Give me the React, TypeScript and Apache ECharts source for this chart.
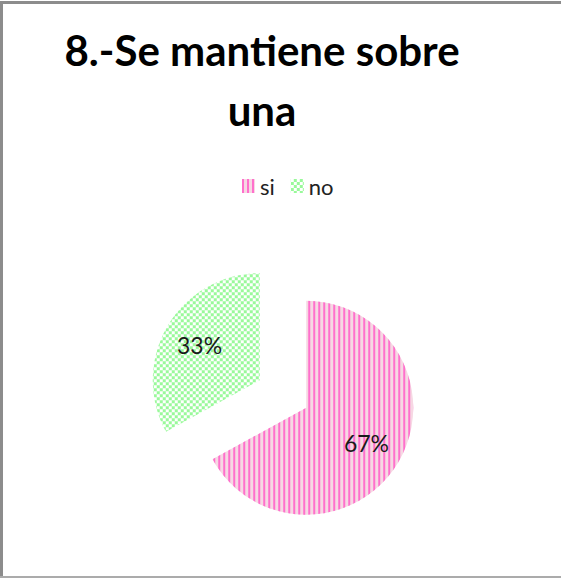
import React, { useEffect, useRef } from 'react';
import * as echarts from 'echarts';

const TITLE_LINES = ['8.-Se mantiene sobre', 'una'];
const categories = ['si', 'no'];
const values = [67, 33];
const baseColors = ['#f6d8e3', '#ffffff'];
const patternColors = ['#ff70cc', '#99f99a'];

export default function App() {
  const ref = useRef<HTMLDivElement>(null);

  useEffect(() => {
    if (!ref.current) return;
    const chart = echarts.init(ref.current, undefined, { renderer: 'svg' });

    const decals = [
      {
        symbol: 'rect',
        color: patternColors[0],
        dashArrayX: [1.5, 2.5],
        dashArrayY: [4, 0],
        symbolKeepAspect: false,
        symbolSize: 1,
        rotation: 0,
      },
      {
        symbol: 'rect',
        color: patternColors[1],
        dashArrayX: [[3, 3], [0, 3, 3, 0]],
        dashArrayY: [3, 0],
        symbolKeepAspect: false,
        symbolSize: 1,
        rotation: 0,
      },
    ];

    const mainData = categories.map((name, i) => ({
      name,
      value: values[i],
      selected: true,
      itemStyle: { color: baseColors[i], decal: decals[i] },
    }));

    const labelData = categories.map((name, i) => ({
      name,
      value: values[i],
      selected: true,
    }));

    const center = [283, 394];

    chart.setOption({
      animation: false,
      aria: { enabled: false, decal: { show: false } },
      title: {
        text: TITLE_LINES.join('\n'),
        left: 257,
        top: 15,
        textAlign: 'center',
        textStyle: {
          fontFamily: 'Lato',
          fontWeight: 'bold',
          fontSize: 42,
          lineHeight: 60,
          color: '#000',
        },
      },
      legend: {
        data: categories,
        left: 237,
        top: 170,
        icon: 'rect',
        itemWidth: 13,
        itemHeight: 14,
        itemGap: 16,
        selectedMode: false,
        textStyle: { fontFamily: 'Lato', fontSize: 22, color: '#222' },
        itemStyle: { decal: 'inherit' },
      },
      graphic: [
        { type: 'rect', shape: { x: 0, y: 1, width: 561, height: 3 }, style: { fill: '#8c8c8c' }, silent: true },
        { type: 'rect', shape: { x: 0, y: 1, width: 3, height: 577 }, style: { fill: '#8c8c8c' }, silent: true },
        { type: 'rect', shape: { x: 0, y: 576, width: 561, height: 2 }, style: { fill: '#ababab' }, silent: true },
      ],
      series: [
        {
          type: 'pie',
          name: 'main',
          center,
          radius: 107,
          startAngle: 90,
          clockwise: true,
          selectedMode: 'multiple',
          selectedOffset: 27,
          silent: true,
          label: { show: false },
          labelLine: { show: false },
          emphasis: { disabled: true },
          itemStyle: { borderWidth: 0 },
          data: mainData,
        },
        {
          type: 'pie',
          name: 'labels',
          center,
          radius: 134,
          startAngle: 90,
          clockwise: true,
          selectedMode: 'multiple',
          selectedOffset: 27,
          silent: true,
          avoidLabelOverlap: false,
          itemStyle: { color: 'rgba(0,0,0,0)', borderWidth: 0 },
          emphasis: { disabled: true },
          labelLine: { show: false },
          label: {
            show: true,
            position: 'inside',
            formatter: '{d}%',
            fontFamily: 'Lato',
            fontSize: 23,
            color: '#1a1a1a',
          },
          data: labelData,
        },
      ],
    });

    return () => chart.dispose();
  }, []);

  return (
    <div
      ref={ref}
      style={{ position: 'fixed', left: 0, top: 0, width: 561, height: 578, background: '#fff' }}
    />
  );
}
